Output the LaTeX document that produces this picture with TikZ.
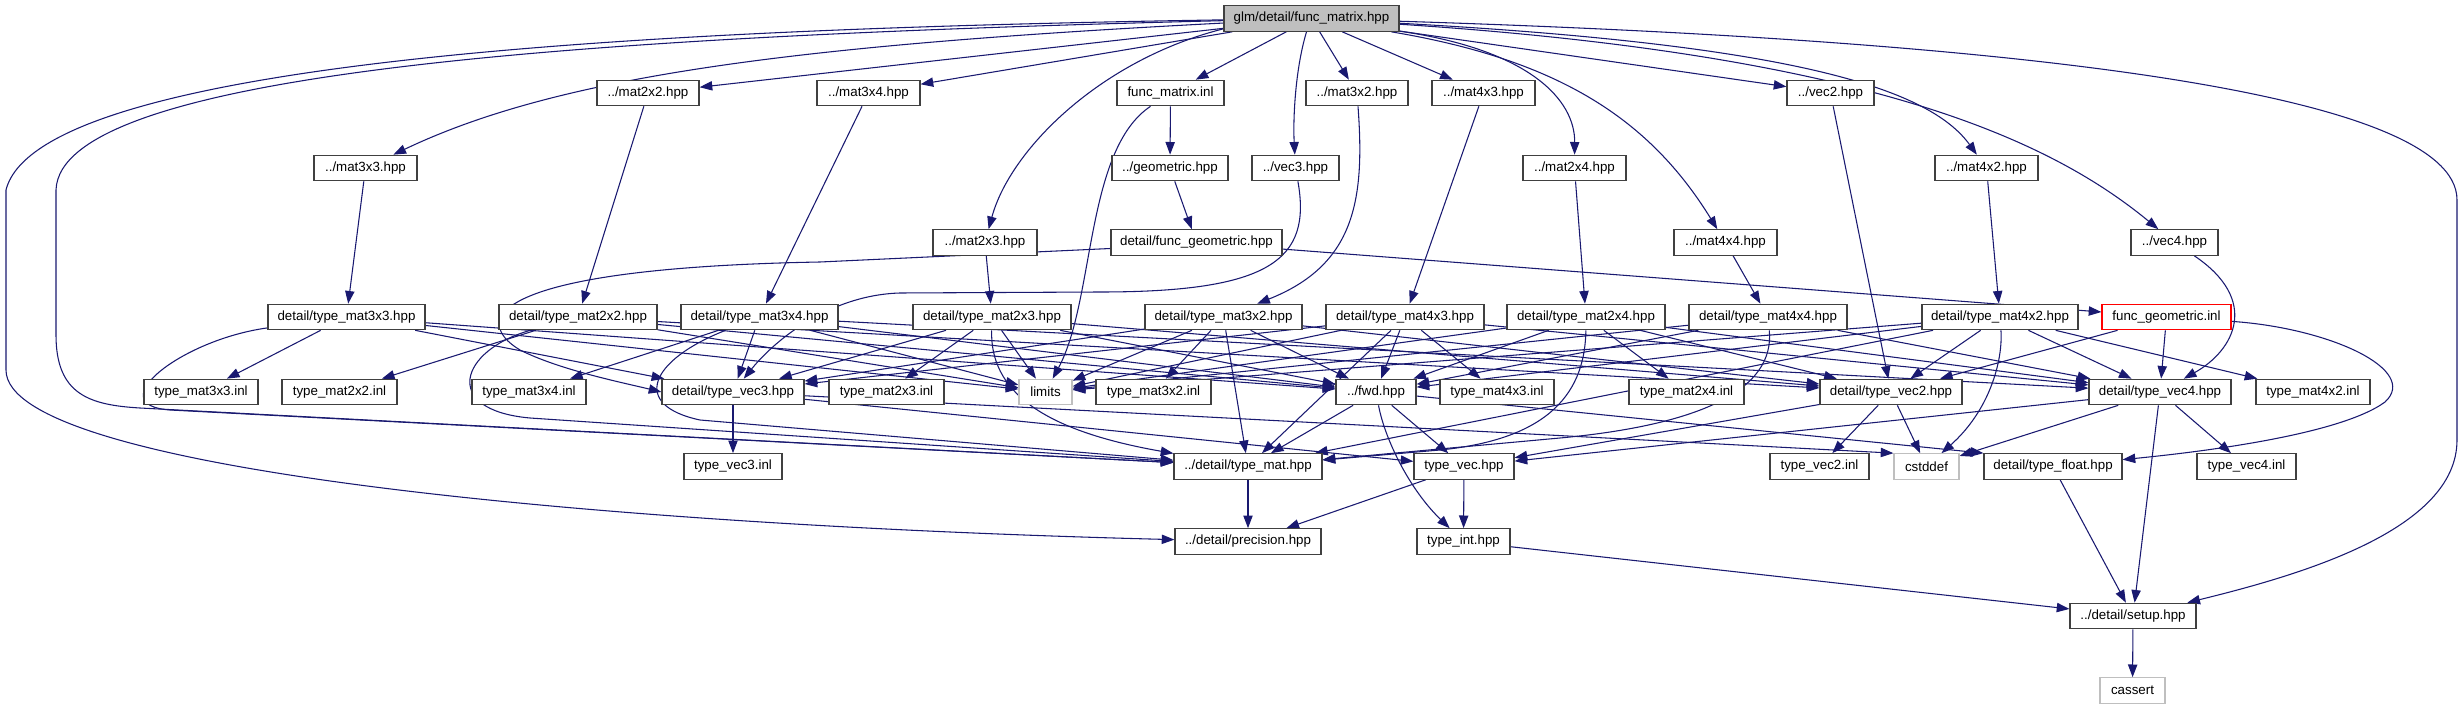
\documentclass[tikz,border=0pt]{standalone}
\usepackage{fontspec}
\setmainfont{Liberation Sans}
\usetikzlibrary{arrows.meta,calc}
\pgfdeclarelayer{bg}
\pgfsetlayers{bg,main}
\definecolor{edgecol}{HTML}{191970}
\definecolor{rootfill}{HTML}{BFBFBF}
\definecolor{boxline}{HTML}{404040}
\newcommand\mknode[6][box]{\node[#1,minimum width=0.75pt*#5] (#2) at (#3,#4) {#6};}
\begin{document}
\begin{tikzpicture}[x=0.75pt,y=-0.75pt,
  box/.style={draw=boxline,line width=0.9pt,fill=white,rectangle,minimum height=19.1pt,
    inner xsep=2pt,inner ysep=0pt,font=\fontsize{10}{12}\selectfont},
  rootbox/.style={box,fill=rootfill},
  graybox/.style={box,draw=rootfill},
  redbox/.style={box,draw=red},
  dep/.style={draw=edgecol,line width=0.8pt,-{Triangle[length=9.5pt,width=7pt]}}]
\useasboundingbox (0,0) rectangle (2464,709);
% row 0
\mknode[rootbox]{n0}{1311.5}{18.5}{175}{glm/detail/func\_matrix.hpp}
% row 1
\mknode{mat2x2}{648}{93}{102}{../mat2x2.hpp}
\mknode{mat3x4}{868.5}{93}{103}{../mat3x4.hpp}
\mknode{fminl}{1170.5}{93}{107}{func\_matrix.inl}
\mknode{mat3x2}{1357}{93}{102}{../mat3x2.hpp}
\mknode{mat4x3}{1483.5}{93}{103}{../mat4x3.hpp}
\mknode{vec2}{1830.5}{93}{87}{../vec2.hpp}
% row 2
\mknode{mat3x3}{365.5}{168}{103}{../mat3x3.hpp}
\mknode{geometric}{1170}{168}{116}{../geometric.hpp}
\mknode{vec3}{1295.5}{168}{87}{../vec3.hpp}
\mknode{mat2x4}{1574.5}{168}{103}{../mat2x4.hpp}
\mknode{mat4x2}{1986.5}{168}{103}{../mat4x2.hpp}
% row 3
\mknode{mat2x3}{985}{242.5}{104}{../mat2x3.hpp}
\mknode{fghpp}{1196.5}{242.5}{171}{detail/func\_geometric.hpp}
\mknode{mat4x4}{1725.5}{242.5}{103}{../mat4x4.hpp}
\mknode{vec4}{2174.5}{242.5}{87}{../vec4.hpp}
% row 4
\mknode{tm3x3}{346.5}{317}{157}{detail/type\_mat3x3.hpp}
\mknode{tm2x2}{578}{317}{158}{detail/type\_mat2x2.hpp}
\mknode{tm3x4}{759.5}{317}{157}{detail/type\_mat3x4.hpp}
\mknode{tm2x3}{992}{317}{158}{detail/type\_mat2x3.hpp}
\mknode{tm3x2}{1223.5}{317}{157}{detail/type\_mat3x2.hpp}
\mknode{tm4x3}{1405}{317}{158}{detail/type\_mat4x3.hpp}
\mknode{tm2x4}{1586}{317}{158}{detail/type\_mat2x4.hpp}
\mknode{tm4x4}{1768}{317}{158}{detail/type\_mat4x4.hpp}
\mknode{tm4x2}{2000}{317}{156}{detail/type\_mat4x2.hpp}
\mknode[redbox]{fginl}{2166.5}{317}{129}{func\_geometric.inl}
% row 5
\mknode{i3x3}{201}{392}{114}{type\_mat3x3.inl}
\mknode{i2x2}{339.5}{392}{115}{type\_mat2x2.inl}
\mknode{i3x4}{529}{392}{114}{type\_mat3x4.inl}
\mknode{tv3}{733}{392}{142}{detail/type\_vec3.hpp}
\mknode{i2x3}{886.5}{392}{115}{type\_mat2x3.inl}
\mknode[graybox]{limits}{1045.5}{392}{53}{limits}
\mknode{i3x2}{1153.5}{392}{115}{type\_mat3x2.inl}
\mknode{fwd}{1376}{392}{80}{../fwd.hpp}
\mknode{i4x3}{1497}{392}{114}{type\_mat4x3.inl}
\mknode{i2x4}{1686.5}{392}{115}{type\_mat2x4.inl}
\mknode{tv2}{1891}{392}{142}{detail/type\_vec2.hpp}
\mknode{tv4}{2160}{392}{142}{detail/type\_vec4.hpp}
\mknode{i4x2}{2313}{392}{114}{type\_mat4x2.inl}
% row 6
\mknode{v3inl}{733}{466.5}{98}{type\_vec3.inl}
\mknode{tmat}{1248}{466.5}{148}{../detail/type\_mat.hpp}
\mknode{tvec}{1464}{466.5}{100}{type\_vec.hpp}
\mknode{v2inl}{1819.5}{466.5}{99}{type\_vec2.inl}
\mknode[graybox]{cstddef}{1926.5}{466.5}{65}{cstddef}
\mknode{tfloat}{2053}{466.5}{138}{detail/type\_float.hpp}
\mknode{v4inl}{2246.5}{466.5}{99}{type\_vec4.inl}
% row 7
\mknode{prec}{1248}{541.5}{146}{../detail/precision.hpp}
\mknode{tint}{1463.5}{541.5}{93}{type\_int.hpp}
% rows 8-9
\mknode{setup}{2133}{616}{126}{../detail/setup.hpp}
\mknode[graybox]{cassert}{2132.5}{690.5}{65}{cassert}

\begin{pgfonlayer}{bg}
% from func_matrix.hpp
\draw[dep] (n0) .. controls (700,28) and (40,55) .. (6,190) -- (6,370) .. controls (6,470) and (600,525) .. (prec);
\draw[dep] (n0) .. controls (600,36) and (60,70) .. (56,190) -- (56,335) .. controls (56,395) and (90,405) .. (140,408) -- (tmat);
\draw[dep] (n0) .. controls (800,45) and (560,75) .. (mat3x3);
\draw[dep] (n0) -- (mat2x2);
\draw[dep] (n0) -- (mat3x4);
\draw[dep] ($(n0.south west)+(0,-3)$) .. controls (1100,60) and (1010,150) .. (mat2x3);
\draw[dep] (n0) -- (fminl);
\draw[dep] ($(n0.south)+(-5,0)$) .. controls (1295,70) and (1293,120) .. (vec3);
\draw[dep] (n0) -- (mat3x2);
\draw[dep] (n0) -- (mat4x3);
\draw[dep] (n0) .. controls (1530,50) and (1575,100) .. (mat2x4);
\draw[dep] (n0) -- (vec2);
\draw[dep] (n0) .. controls (1800,45) and (1930,90) .. (mat4x2);
\draw[dep] (n0) .. controls (1560,60) and (1650,120) .. (mat4x4);
\draw[dep] (n0) .. controls (1870,55) and (2050,140) .. (vec4);
\draw[dep] (n0) .. controls (2000,40) and (2457,90) .. (2457,200) -- (2457,440) .. controls (2457,530) and (2300,575) .. (setup);
% func_matrix.inl, geometric
\draw[dep] (fminl) -- (geometric);
\draw[dep] (fminl) .. controls (1085,150) and (1095,300) .. (limits);
\draw[dep] (geometric) -- (fghpp);
\draw[dep] ($(fghpp.west)+(0,6)$) -- (820,262) .. controls (490,268) and (470,320) .. (520,350) .. controls (560,370) and (620,382) .. (tv3.west);
\draw[dep] (fghpp) -- (fginl);
\draw[dep] (fginl) -- (tv2);
\draw[dep] (fginl) -- (tv4);
\draw[dep] (fginl) .. controls (2330,328) and (2420,370) .. (2385,402) .. controls (2340,435) and (2200,452) .. (tfloat);
% vec headers
\draw[dep] (vec2) -- (tv2);
\draw[dep] (vec3) .. controls (1312,260) and (1270,292) .. (1100,292) -- (900,293) .. controls (830,295) and (775,340) .. (tv3);
\draw[dep] (vec4) .. controls (2260,300) and (2235,350) .. (tv4);
% mat headers
\draw[dep] (mat3x3) -- (tm3x3);
\draw[dep] (mat2x2) -- (tm2x2);
\draw[dep] (mat3x4) -- (tm3x4);
\draw[dep] (mat2x3) -- (tm2x3);
\draw[dep] (mat3x2) .. controls (1365,200) and (1355,265) .. (tm3x2);
\draw[dep] (mat4x3) -- (tm4x3);
\draw[dep] (mat2x4) -- (tm2x4);
\draw[dep] (mat4x4) -- (tm4x4);
\draw[dep] (mat4x2) -- (tm4x2);
% type_mat3x3
\draw[dep] (tm3x3) -- (i3x3);
\draw[dep] (tm3x3) -- (tv3);
\draw[dep] (tm3x3) -- (limits);
\draw[dep] (tm3x3) -- (fwd);
\draw[dep] (tm3x3) .. controls (180,340) and (100,405) .. (170,410) -- (tmat);
% type_mat2x2
\draw[dep] (tm2x2) -- (i2x2);
\draw[dep] (tm2x2) -- (tv2);
\draw[dep] (tm2x2) -- (limits);
\draw[dep] (tm2x2) -- (fwd);
\draw[dep] (tm2x2) .. controls (460,350) and (440,410) .. (530,418) -- (tmat);
% type_mat3x4
\draw[dep] (tm3x4) -- (i3x4);
\draw[dep] (tm3x4) -- (tv3);
\draw[dep] (tm3x4) -- (tv4);
\draw[dep] (tm3x4) -- (limits);
\draw[dep] (tm3x4) -- (fwd);
\draw[dep] (tm3x4) .. controls (650,360) and (630,405) .. (700,420) -- (tmat);
% type_mat2x3
\draw[dep] (tm2x3) -- (i2x3);
\draw[dep] (tm2x3) -- (tv2);
\draw[dep] (tm2x3) -- (tv3);
\draw[dep] (tm2x3) -- (limits);
\draw[dep] (tm2x3) -- (fwd);
\draw[dep] (tm2x3) .. controls (990,390) and (1040,430) .. (tmat);
% type_mat3x2
\draw[dep] (tm3x2) -- (i3x2);
\draw[dep] (tm3x2) -- (tv2);
\draw[dep] (tm3x2) -- (tv3);
\draw[dep] (tm3x2) -- (limits);
\draw[dep] (tm3x2) -- (fwd);
\draw[dep] (tm3x2) -- (tmat);
% type_mat4x3
\draw[dep] (tm4x3) -- (i4x3);
\draw[dep] (tm4x3) -- (tv3);
\draw[dep] (tm4x3) -- (tv4);
\draw[dep] (tm4x3) -- (limits);
\draw[dep] (tm4x3) -- (fwd);
\draw[dep] (tm4x3) -- (tmat);
% type_mat2x4
\draw[dep] (tm2x4) -- (i2x4);
\draw[dep] (tm2x4) -- (tv2);
\draw[dep] (tm2x4) -- (tv4);
\draw[dep] (tm2x4) -- (limits);
\draw[dep] (tm2x4) -- (fwd);
\draw[dep] (tm2x4) .. controls (1585,400) and (1540,440) .. (1440,450) -- (tmat);
% type_mat4x4
\draw[dep] (tm4x4) -- (tv4);
\draw[dep] (tm4x4) -- (limits);
\draw[dep] (tm4x4) -- (fwd);
\draw[dep] (tm4x4) .. controls (1775,390) and (1700,425) .. (1560,438) -- (tmat);
% type_mat4x2
\draw[dep] (tm4x2) -- (i4x2);
\draw[dep] (tm4x2) -- (tv2);
\draw[dep] (tm4x2) -- (tv4);
\draw[dep] (tm4x2) -- (limits);
\draw[dep] (tm4x2) -- (fwd);
\draw[dep] (tm4x2) -- (tmat);
\draw[dep] (tm4x2) .. controls (2003,360) and (1990,410) .. (cstddef);
% vectors
\draw[dep] (tv3) -- (v3inl);
\draw[dep] (tv3) -- (tvec);
\draw[dep] (tv3) -- (cstddef.north west);
\draw[dep] (tv2) -- (v2inl);
\draw[dep] (tv2) -- (cstddef);
\draw[dep] (tv2) -- (tvec);
\draw[dep] (tv4) -- (v4inl);
\draw[dep] (tv4) -- (cstddef);
\draw[dep] (tv4) -- (tvec);
\draw[dep] (tv4) -- (setup);
% fwd and below
\draw[dep] (fwd) -- (tmat);
\draw[dep] (fwd) -- (tvec);
\draw[dep] (fwd) .. controls (1385,440) and (1410,490) .. (tint);
\draw[dep] (fwd) -- (tfloat.north west);
\draw[dep] (tmat) -- (prec);
\draw[dep] (tvec) -- (prec);
\draw[dep] (tvec) -- (tint);
\draw[dep] (tint) -- (setup);
\draw[dep] (tfloat) -- (setup);
\draw[dep] (setup) -- (cassert);
\end{pgfonlayer}
\end{tikzpicture}
\end{document}
